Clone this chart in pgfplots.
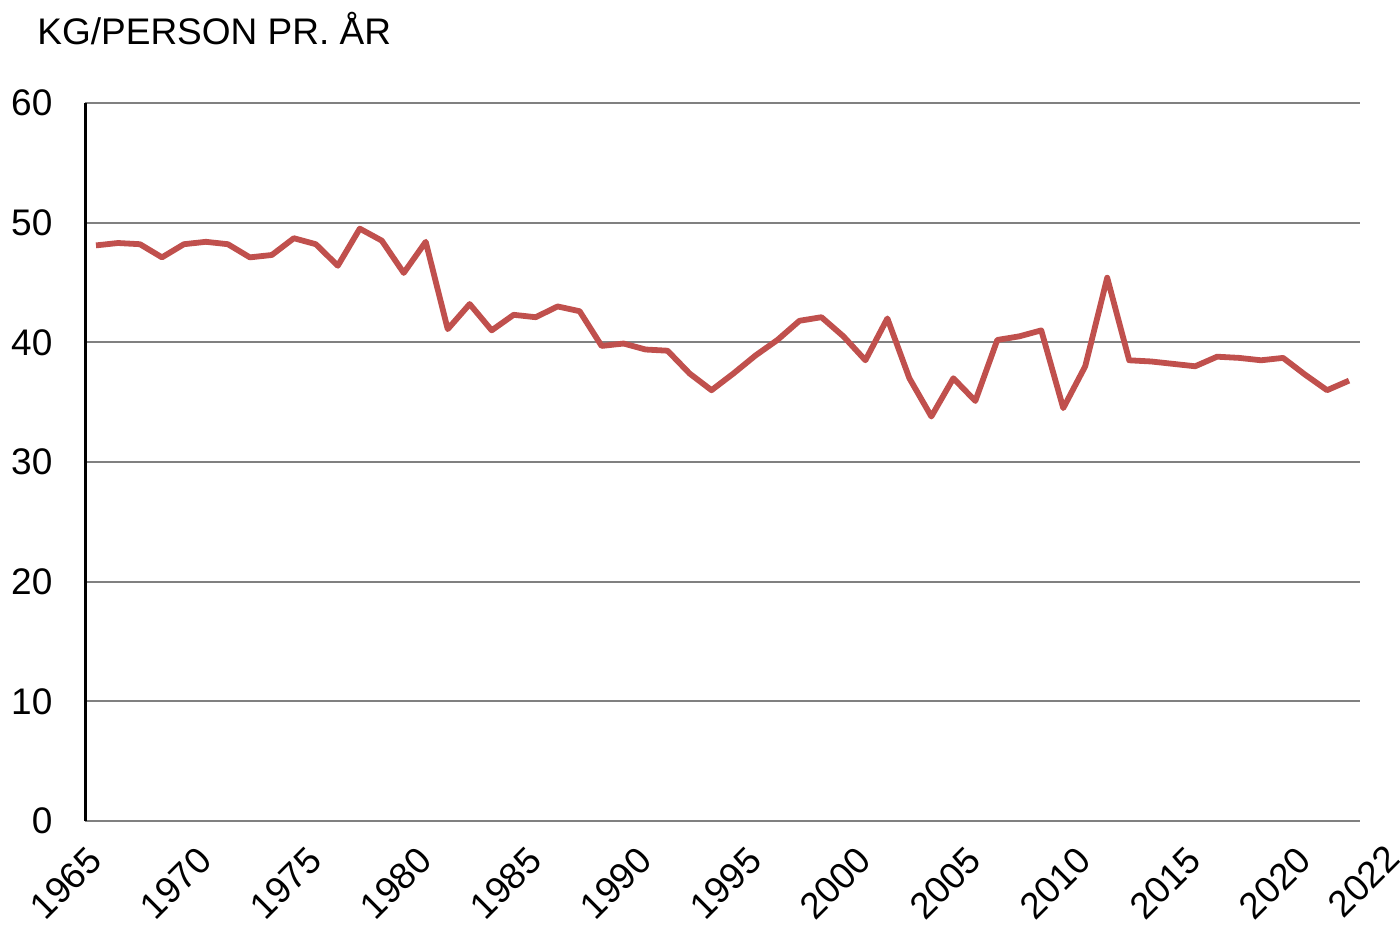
\documentclass[border=0pt]{standalone}
\usepackage{pgfplots}
\pgfplotsset{compat=1.18}
\usepackage{fontspec}
\setmainfont{Liberation Sans}
\definecolor{lred}{HTML}{C0504D}
\definecolor{gridgray}{HTML}{808080}
\begin{document}
\begin{tikzpicture}[x=1pt,y=1pt]
\useasboundingbox (0,0) rectangle (700,463);
\node[anchor=base west, inner sep=0pt, font=\fontsize{18.5}{20}\selectfont] at (18.5,440.5) {KG/PERSON PR. ÅR};
\begin{axis}[
  at={(42.5pt,52.5pt)}, anchor=south west,
  scale only axis, width=637.5pt, height=359pt,
  xmin=1964.5, xmax=2022.5, ymin=0, ymax=60,
  axis lines=left, axis line style={-},
  x axis line style={draw=gridgray, line width=1.2pt},
  y axis line style={draw=black, line width=1.5pt},
  ytick={0,10,...,60},
  ymajorgrids, grid style={draw=gridgray, line width=1pt},
  xtick={1965,1970,...,2020},
  extra x ticks={2022}, extra x tick labels={2022},
  extra x tick style={xticklabel style={xshift=16.6pt, yshift=-15.1pt}},
  tick style={draw=none},
  ticklabel style={font=\fontsize{18.5}{20}\selectfont},
  xticklabel style={xshift=-6.5pt, yshift=-11pt, rotate=45, anchor=north east, inner sep=0pt, xshift=2pt},
  yticklabel style={anchor=east, inner sep=0pt, xshift=-14pt},
  /pgf/number format/assume math mode=true,
  /pgf/number format/1000 sep={},
  clip=false,
]
\addplot[lred, line width=2.9pt, line join=round] table {
x y
1965 48.1
1966 48.3
1967 48.2
1968 47.1
1969 48.2
1970 48.4
1971 48.2
1972 47.1
1973 47.3
1974 48.7
1975 48.2
1976 46.4
1977 49.5
1978 48.5
1979 45.8
1980 48.4
1981 41.1
1982 43.2
1983 41.0
1984 42.3
1985 42.1
1986 43.0
1987 42.6
1988 39.7
1989 39.9
1990 39.4
1991 39.3
1992 37.4
1993 36.0
1994 37.4
1995 38.9
1996 40.2
1997 41.8
1998 42.1
1999 40.5
2000 38.5
2001 42.0
2002 37.0
2003 33.8
2004 37.0
2005 35.1
2006 40.2
2007 40.5
2008 41.0
2009 34.5
2010 38.0
2011 45.4
2012 38.5
2013 38.4
2014 38.2
2015 38.0
2016 38.8
2017 38.7
2018 38.5
2019 38.7
2020 37.3
2021 36.0
2022 36.8
};
\end{axis}
\end{tikzpicture}
\end{document}
